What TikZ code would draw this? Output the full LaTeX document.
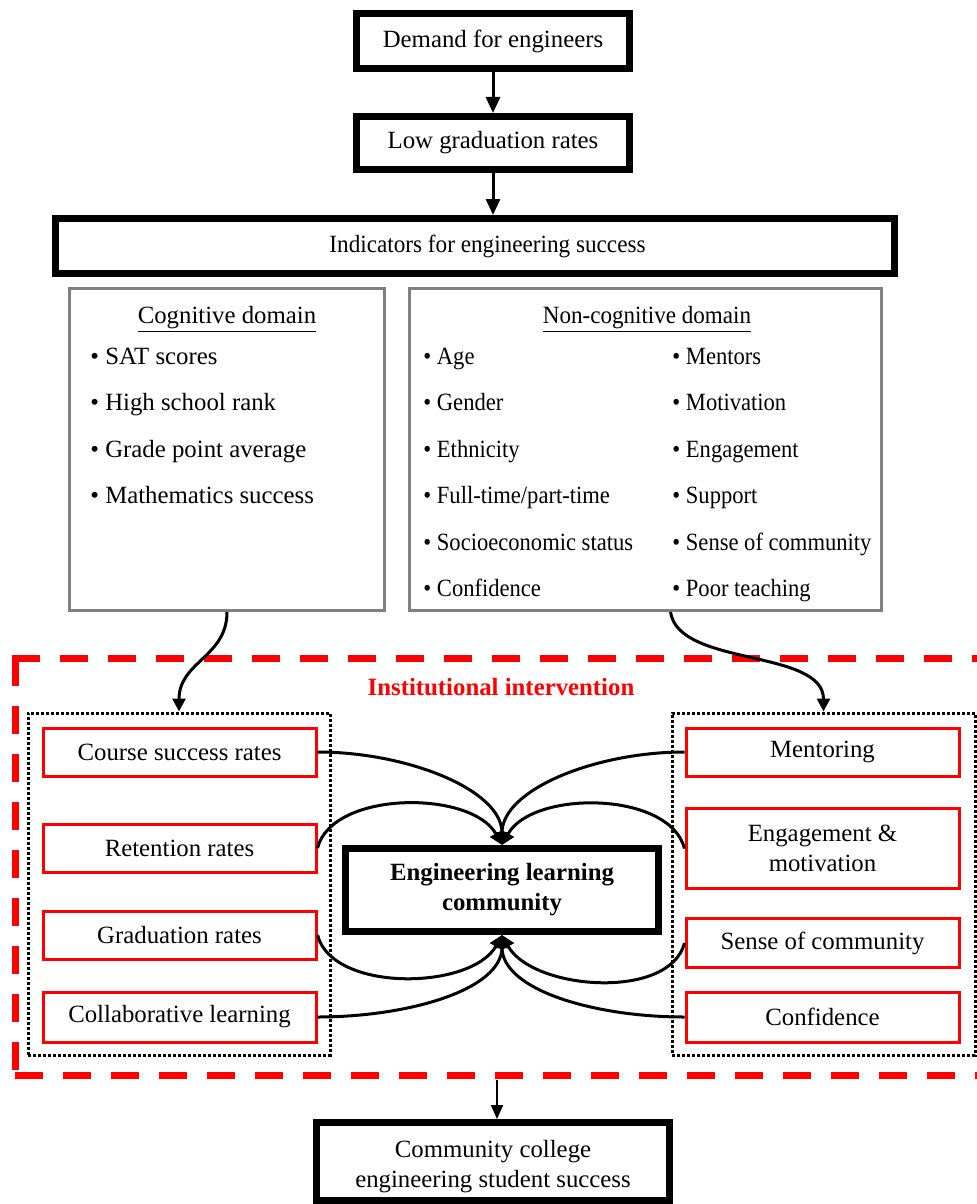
\documentclass[tikz,border=0pt]{standalone}
\usepackage{fontspec}
\setmainfont{Liberation Serif}
\usetikzlibrary{arrows.meta}
% slightly condensed setting for the wider text runs
\newcommand{\condensed}[2]{\scalebox{#1}[1]{#2}}
\newcommand{\ncentry}[1]{\condensed{0.91}{#1}}
\begin{document}
\begin{tikzpicture}[x=0.5pt,y=-0.5pt,
  every node/.style={font=\fontsize{12.4}{15}\selectfont, inner sep=0pt, align=center},
  heavybox/.style={draw, line width=3.5pt, fill=white},
  domainbox/.style={draw=gray, line width=1.5pt},
  redbox/.style={draw=red, line width=1.5pt, fill=white, minimum width=136.5pt},
  groupbox/.style={draw, line width=1.5pt, dash pattern=on 1.5pt off 1pt},
  item/.style={anchor=base west},
  flow/.style={line width=1.5pt, -{Triangle[length=8pt,width=7pt]}},
  link/.style={line width=1.5pt, -{Triangle[length=6.5pt,width=6.5pt]}},
  frame/.style={draw=red, line width=3.5pt, dash pattern=on 14pt off 10pt},
]
\useasboundingbox (0,0) rectangle (977,1204);
\clip (0,0) rectangle (977,1204);

% top chain
\node[heavybox, minimum width=136.5pt, minimum height=27.5pt] (dem) at (493,41) {Demand for engineers};
\node[heavybox, minimum width=136.5pt, minimum height=26.5pt] (low) at (493,143) {Low graduation rates};
\node[heavybox, minimum width=419.5pt, minimum height=27.5pt] (ind) at (475,246) {};
\node (indt) at (487.5,246) {\condensed{0.935}{Indicators for engineering success}};
\draw[flow] (dem.south) -- (low.north);
\draw[flow] (low.south) -- (low.south |- ind.north);

% indicator domains
\node[domainbox, minimum width=157.5pt, minimum height=161pt] (cog) at (227,449.5) {};
\node[domainbox, minimum width=236pt, minimum height=161pt] (ncog) at (645.5,449.5) {};
\node[anchor=base] (cogt) at (227,323) {\underline{Cognitive domain}};
\node[item] (c1) at (90,364) {• SAT scores};
\node[item] (c2) at (90,410.5) {• High school rank};
\node[item] (c3) at (90,457) {• Grade point average};
\node[item] (c4) at (90,503.5) {• Mathematics success};

\node[anchor=base] (ncogt) at (647,323) {\underline{\condensed{0.93}{Non-cognitive domain}}};
\node[item] (n1) at (423,364) {\ncentry{• Age}};
\node[item] (n2) at (423,410.5) {\ncentry{• Gender}};
\node[item] (n3) at (423,457) {\ncentry{• Ethnicity}};
\node[item] (n4) at (423,503.5) {\ncentry{• Full-time/part-time}};
\node[item] (n5) at (423,550) {\ncentry{• Socioeconomic status}};
\node[item] (n6) at (423,596.5) {\ncentry{• Confidence}};
\node[item] (m1) at (672,364) {\ncentry{• Mentors}};
\node[item] (m2) at (672,410.5) {\ncentry{• Motivation}};
\node[item] (m3) at (672,457) {\ncentry{• Engagement}};
\node[item] (m4) at (672,503.5) {\ncentry{• Support}};
\node[item] (m5) at (672,550) {\ncentry{• Sense of community}};
\node[item] (m6) at (672,596.5) {\ncentry{• Poor teaching}};

% institutional intervention frame
\coordinate (ftl) at (11.5,658);
\coordinate (ftr) at (995,658);
\coordinate (fbl) at (15,1075);
\coordinate (fbr) at (995,1075);
\draw[frame] (ftl) -- (ftr);
\draw[frame] (ftl -| fbl) -- (fbl);
\draw[frame] (fbl) -- (fbr);
\node[text=red, font=\fontsize{12.4}{15}\selectfont\bfseries] (inst) at (501,687) {Institutional intervention};

% groups of outcomes
\node[groupbox, minimum width=151pt, minimum height=171pt] (ldot) at (179,884) {};
\node[groupbox, minimum width=151.5pt, minimum height=171pt] (rdot) at (823.5,884) {};

\node[redbox, minimum height=24pt] (course) at (179.5,752) {Course success rates};
\node[redbox, minimum height=24pt] (ret) at (179.5,848) {Retention rates};
\node[redbox, minimum height=24pt] (grad) at (179.5,935) {Graduation rates};
\node[redbox, minimum height=25pt] (coll) at (179.5,1017) {Collaborative learning};

\node[redbox, minimum height=24pt] (ment) at (822.5,752) {Mentoring};
\node[redbox, minimum height=40pt] (eng) at (822.5,848.5) {Engagement \&\\motivation};
\node[redbox, minimum height=24.5pt] (sense) at (822.5,943) {Sense of community};
\node[redbox, minimum height=25pt] (conf) at (822.5,1017) {Confidence};

\node[heavybox, minimum width=156.5pt, minimum height=41.5pt, font=\fontsize{12.4}{15}\selectfont\bfseries] (elc) at (502,890) {Engineering learning\\community};

% domains feed the groups
\draw[link] (cog.south) .. controls +(0,45) and +(0,-50) .. (ldot.north);
\draw[link] (ncog.south -| rdot.west) .. controls +(8,55) and +(0,-63) .. (rdot.north);

% outcomes linked to the learning community
\draw[link] (course.east) .. controls +(90,0) and +(0,-55) .. (elc.north);
\draw[link] (ret.east) .. controls +(15,-58) and +(-30,-55) .. (elc.north);
\draw[link] (ment.west) .. controls +(-90,0) and +(0,-55) .. (elc.north);
\draw[link] (eng.west) .. controls +(-15,-58) and +(30,-55) .. (elc.north);
\draw[link] (grad.east) .. controls +(15,58) and +(-30,55) .. (elc.south);
\draw[link] (coll.east) .. controls +(90,0) and +(0,55) .. (elc.south);
\draw[link] (sense.west) .. controls +(-15,58) and +(30,55) .. (elc.south);
\draw[link] (conf.west) .. controls +(-90,0) and +(0,55) .. (elc.south);

% outcome
\node[heavybox, minimum width=176.5pt, minimum height=39pt] (ccs) at (493,1161.5) {};
\node (ccst) at (493,1167) {Community college\\engineering student success};
\coordinate (ibot) at (497,1080);
\draw[line width=1pt, -{Triangle[length=7pt,width=6pt]}] (ibot) -- (ibot |- ccs.north);
\end{tikzpicture}
\end{document}
